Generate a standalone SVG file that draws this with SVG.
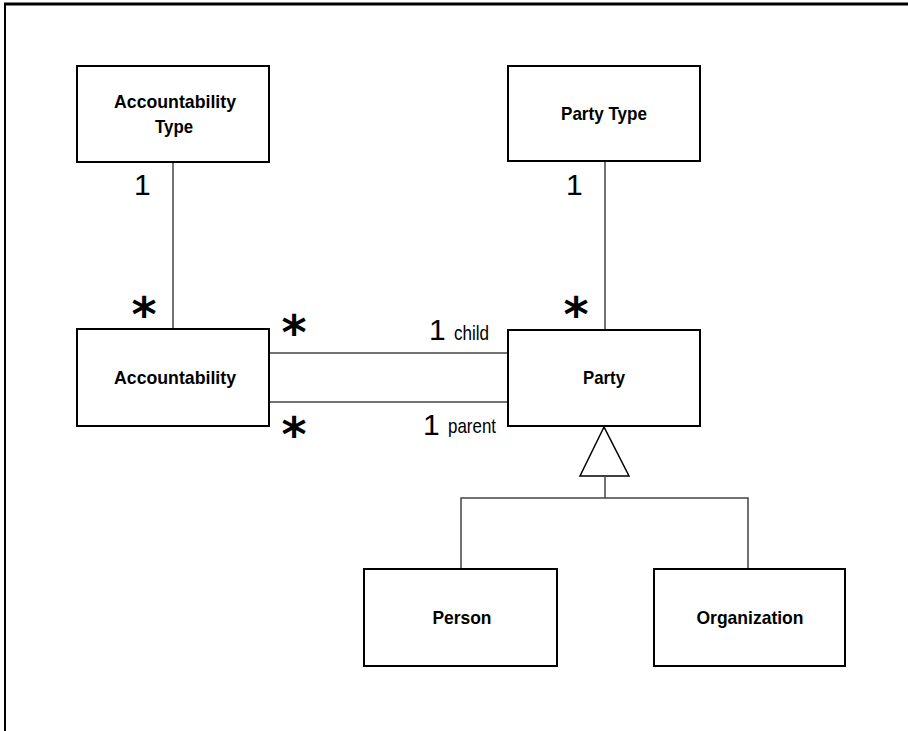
<svg xmlns="http://www.w3.org/2000/svg" width="908" height="731" viewBox="0 0 908 731">
  <style>
    .box { fill: #fff; stroke: #000; stroke-width: 2; }
    .link { fill: none; stroke: #444; stroke-width: 1.5; }
    .name { font-family: "Liberation Sans", Arial, sans-serif; font-weight: bold; font-size: 19px; text-anchor: middle; fill: #000; }
    .mult { font-family: "Liberation Sans", Arial, sans-serif; font-size: 30px; fill: #000; }
    .star { font-family: "DejaVu Sans", sans-serif; font-weight: bold; font-size: 48px; text-anchor: middle; fill: #000; }
    .role { font-family: "Liberation Sans", Arial, sans-serif; font-size: 21px; fill: #000; }
  </style>

  <rect width="908" height="731" fill="#fff"/>

  <!-- page frame -->
  <g id="frame" fill="none" stroke="#000">
    <line x1="5" y1="4" x2="5" y2="731" stroke-width="2"/>
    <line x1="4" y1="4" x2="908" y2="4" stroke-width="3"/>
  </g>

  <!-- connectors -->
  <g id="connectors">
    <line class="link" x1="173" y1="162" x2="173" y2="329"/>
    <line class="link" x1="605" y1="161" x2="605" y2="330"/>
    <line class="link" x1="269" y1="353" x2="508" y2="353"/>
    <line class="link" x1="269" y1="402" x2="508" y2="402"/>
    <!-- generalization -->
    <polygon points="604,427 580,476 629,476" fill="#fff" stroke="#000" stroke-width="1.5"/>
    <line class="link" x1="605" y1="476" x2="605" y2="498"/>
    <polyline class="link" points="461,569 461,498 748,498 748,569"/>
  </g>

  <!-- multiplicities and roles -->
  <g id="labels">
    <text class="mult" x="134" y="195">1</text>
    <text class="star" x="144" y="331">*</text>
    <text class="mult" x="566" y="195">1</text>
    <text class="star" x="576" y="331">*</text>
    <text class="star" x="294" y="349">*</text>
    <text class="star" x="294" y="451">*</text>
    <text class="mult" x="429" y="340">1</text>
    <text class="role" x="454" y="340" textLength="35" lengthAdjust="spacingAndGlyphs">child</text>
    <text class="mult" x="423" y="435">1</text>
    <text class="role" x="448" y="433" textLength="48" lengthAdjust="spacingAndGlyphs">parent</text>
  </g>

  <g id="accountability-type">
    <rect class="box" x="77" y="66" width="192" height="96"/>
    <text class="name" x="175" y="108" textLength="122" lengthAdjust="spacingAndGlyphs">Accountability</text>
    <text class="name" x="174" y="133" textLength="38" lengthAdjust="spacingAndGlyphs">Type</text>
  </g>

  <g id="party-type">
    <rect class="box" x="508" y="66" width="192" height="95"/>
    <text class="name" x="604" y="120" textLength="86" lengthAdjust="spacingAndGlyphs">Party Type</text>
  </g>

  <g id="accountability">
    <rect class="box" x="77" y="329" width="192" height="97"/>
    <text class="name" x="175" y="384" textLength="122" lengthAdjust="spacingAndGlyphs">Accountability</text>
  </g>

  <g id="party">
    <rect class="box" x="508" y="330" width="192" height="96"/>
    <text class="name" x="604" y="384" textLength="42" lengthAdjust="spacingAndGlyphs">Party</text>
  </g>

  <g id="person">
    <rect class="box" x="364" y="569" width="193" height="97"/>
    <text class="name" x="462" y="624" textLength="59" lengthAdjust="spacingAndGlyphs">Person</text>
  </g>

  <g id="organization">
    <rect class="box" x="654" y="569" width="191" height="97"/>
    <text class="name" x="750" y="624" textLength="107" lengthAdjust="spacingAndGlyphs">Organization</text>
  </g>
</svg>
